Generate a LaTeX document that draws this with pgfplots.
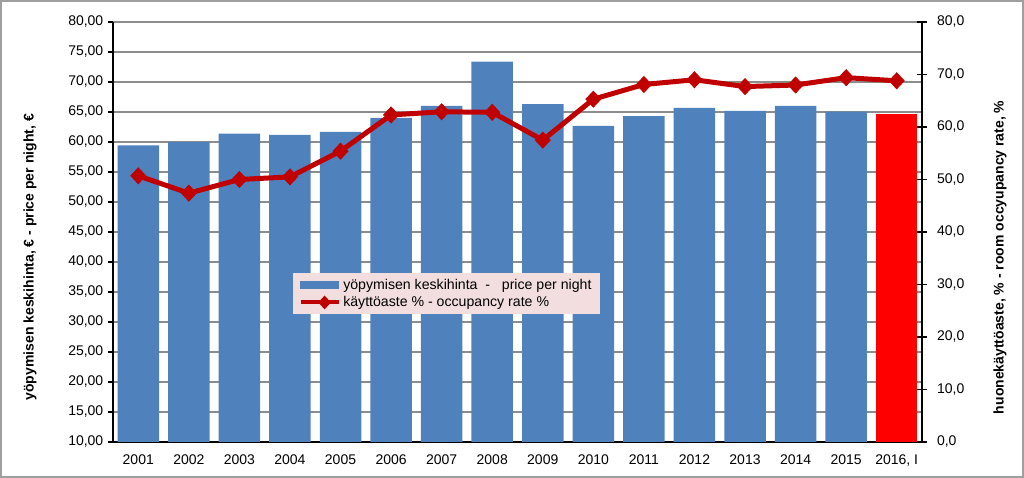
\documentclass[border=0pt]{standalone}
\usepackage{pgfplots}
\pgfplotsset{compat=1.18}
\usepackage{fontspec}
\setmainfont{Liberation Sans}

\definecolor{barblue}{HTML}{4F81BD}
\definecolor{linered}{HTML}{C00000}
\definecolor{legpink}{HTML}{F2DEDE}
\definecolor{gridgray}{HTML}{8C8C8C}

\pgfplotsset{
  common/.style={
    at={(0,0)}, anchor=south west,
    scale only axis, width=606.75pt, height=315pt,
    xmin=-0.5, xmax=15.5,
    tick label style={font=\fontsize{10.5}{12}\selectfont},
    label style={font=\fontsize{10.5}{12}\selectfont\bfseries},
    axis line style={black, line width=0.9pt},
    tick style={black, line width=0.9pt},
  }
}

\begin{document}
\begin{tikzpicture}
\useasboundingbox (-84.75pt,-27pt) rectangle (683.25pt,331.5pt);
\draw[draw=gray!75, line width=1.5pt] (-84pt,-26.25pt) rectangle (682.5pt,330.75pt);

% price per night (left axis)
\begin{axis}[common,
  ymin=10, ymax=80,
  ytick={10,15,20,25,30,35,40,45,50,55,60,65,70,75,80},
  axis y line*=left, axis x line*=bottom,
  tick align=outside,
  major tick length=3.75pt,
  xtick={0,...,15},
  xticklabels={2001,2002,2003,2004,2005,2006,2007,2008,2009,2010,2011,2012,2013,2014,2015,{2016, I}},
  x tick style={draw=none},
  xticklabel style={yshift=-2pt},
  minor xtick={-0.5,0.5,...,15.5},
  minor x tick style={black, line width=0.9pt},
  minor tick length=3.75pt,
  ymajorgrids,
  grid style={gridgray, line width=0.8pt},
  yticklabel style={/pgf/number format/fixed, /pgf/number format/fixed zerofill,
    /pgf/number format/precision=2, /pgf/number format/use comma,
    /pgf/number format/assume math mode=true},
  ylabel={yöpymisen keskihinta, € - price per night, €},
  ylabel style={at={(axis description cs:0,0.5)}, anchor=center, yshift=62.25pt, xshift=-19pt},
]
\addplot[ybar, bar width=0.82, bar shift=0pt, fill=barblue, draw=none] coordinates {
(0,59.45) (1,60.0) (2,61.4) (3,61.2) (4,61.7) (5,64.0) (6,66.0) (7,73.4)
(8,66.3) (9,62.7) (10,64.3) (11,65.7) (12,65.2) (13,66.0) (14,65.05)
};
\addplot[ybar, bar width=0.82, bar shift=0pt, fill=red, draw=none] coordinates {
(15,64.7)
};
\end{axis}

% occupancy rate (right axis)
\begin{axis}[common,
  ymin=0, ymax=80,
  ytick={0,10,20,30,40,50,60,70,80},
  axis y line*=right, axis x line=none,
  tick align=center,
  major tick length=7.5pt,
  yticklabel style={xshift=4pt, /pgf/number format/fixed, /pgf/number format/fixed zerofill,
    /pgf/number format/precision=1, /pgf/number format/use comma,
    /pgf/number format/assume math mode=true},
  ylabel={huonekäyttöaste, \% - room occyupancy rate, \%},
  ylabel style={at={(axis description cs:1,0.5)}, anchor=center, yshift=-58.5pt, xshift=-19pt},
  legend style={at={(0.2225,0.402)}, anchor=north west,
    fill=legpink, draw=none, inner xsep=4pt, inner ysep=2pt,
    font=\fontsize{10.6}{12}\selectfont, row sep=0pt},
  legend cell align=left,
]
\addlegendimage{legend image code/.code={\fill[barblue] (0pt,-2.6pt) rectangle (28.5pt,2.6pt);}}
\addlegendentry{yöpymisen keskihinta \ - \ \ price per night}
\addplot[linered, line width=3.75pt, mark=diamond*,
  mark options={linered, line width=0.6pt, mark size=6pt, xscale=1.25},
  legend image code/.code={
    \draw[linered, line width=3pt] (0pt,0pt) -- (28.5pt,0pt);
    \fill[linered] (18pt,2.4pt) -- (20.2pt,0pt) -- (18pt,-2.4pt) -- (15.8pt,0pt) -- cycle;}]
coordinates {
(0,50.7) (1,47.4) (2,50.0) (3,50.5) (4,55.4) (5,62.3) (6,62.9) (7,62.8)
(8,57.5) (9,65.3) (10,68.1) (11,69.0) (12,67.7) (13,68.0) (14,69.4) (15,68.8)
};
\addlegendentry{käyttöaste \% - occupancy rate \%}
\end{axis}
\end{tikzpicture}
\end{document}
